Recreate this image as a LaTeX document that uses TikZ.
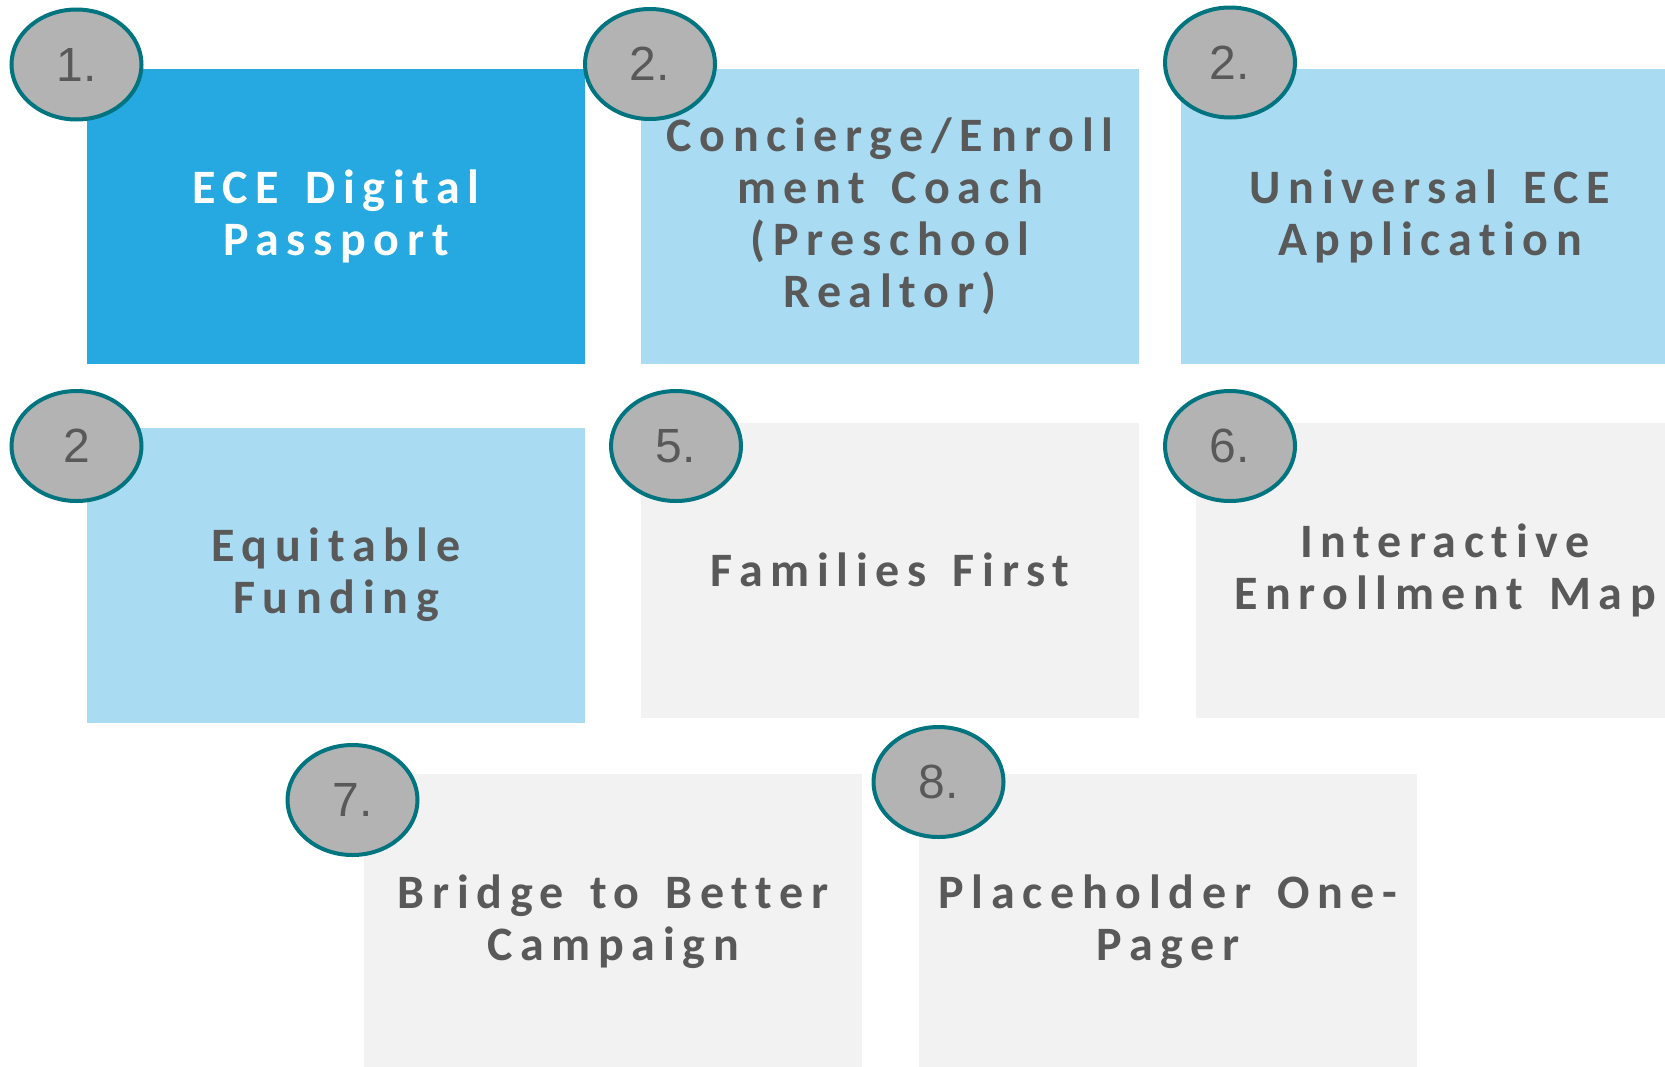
\documentclass[tikz,border=0pt]{standalone}
\usepackage{fontspec}
\newfontfamily\tilefont[LetterSpace=16, Ligatures=NoCommon, WordSpace=1.4]{Carlito}
\newfontfamily\numfont{Liberation Sans}
\usepackage{tikz}
\usetikzlibrary{shapes.geometric, positioning}
\definecolor{tileBlue}{HTML}{26A8E0}
\definecolor{tileLight}{HTML}{A9DCF2}
\definecolor{tileGrey}{HTML}{F2F2F2}
\definecolor{badgeFill}{HTML}{B3B3B3}
\definecolor{badgeRim}{HTML}{00747F}
\definecolor{textGrey}{HTML}{595959}
\tikzset{
  tile/.style={rectangle, minimum width=498, minimum height=295, inner sep=0, align=center, text=textGrey, font=\tilefont\bfseries\fontsize{48}{52}\selectfont},
  badge/.style={ellipse, draw=badgeRim, line width=4, fill=badgeFill, minimum width=130, minimum height=110, inner sep=0, text=textGrey, font=\numfont\fontsize{48}{48}\selectfont}
}

\begin{document}
\begin{tikzpicture}[x=1pt, y=-1pt]
\useasboundingbox (0,0) rectangle (1665,1066);
% top row
\node[tile, fill=tileBlue, text=white] (passport) at (336,216.5) {ECE Digital\\Passport};
\node[tile, fill=tileLight] (concierge) at (890,216.5) {Concierge/Enroll\\ment Coach\\(Preschool\\Realtor)};
\node[tile, fill=tileLight] (application) at (1430,216.5) {Universal ECE\\Application};
% middle row
\node[tile, fill=tileLight] (funding) at (336,575) {Equitable\\Funding};
\node[tile, fill=tileGrey] (families) at (890,570) {Families First};
\node[tile, fill=tileGrey] (enrollmap) at (1445,570) {Interactive\\Enrollment Map};
% bottom row
\node[tile, fill=tileGrey] (bridge) at (613,921.5) {Bridge to Better\\Campaign};
\node[tile, fill=tileGrey] (onepager) at (1168,921.5) {Placeholder One-\\Pager};
% number badges
\node[badge] (n1) at (76.5,64.5) {1.};
\node[badge] (n2) at (650,64) {2.};
\node[badge] (n3) at (1230,62.5) {2.};
\node[badge] (n4) at (76.5,446) {2};
\node[badge] (n5) at (676,446) {5.};
\node[badge] (n6) at (1230,446) {6.};
\node[badge] (n7) at (352.5,800) {7.};
\node[badge] (n8) at (938.5,782) {8.};
\end{tikzpicture}
\end{document}
